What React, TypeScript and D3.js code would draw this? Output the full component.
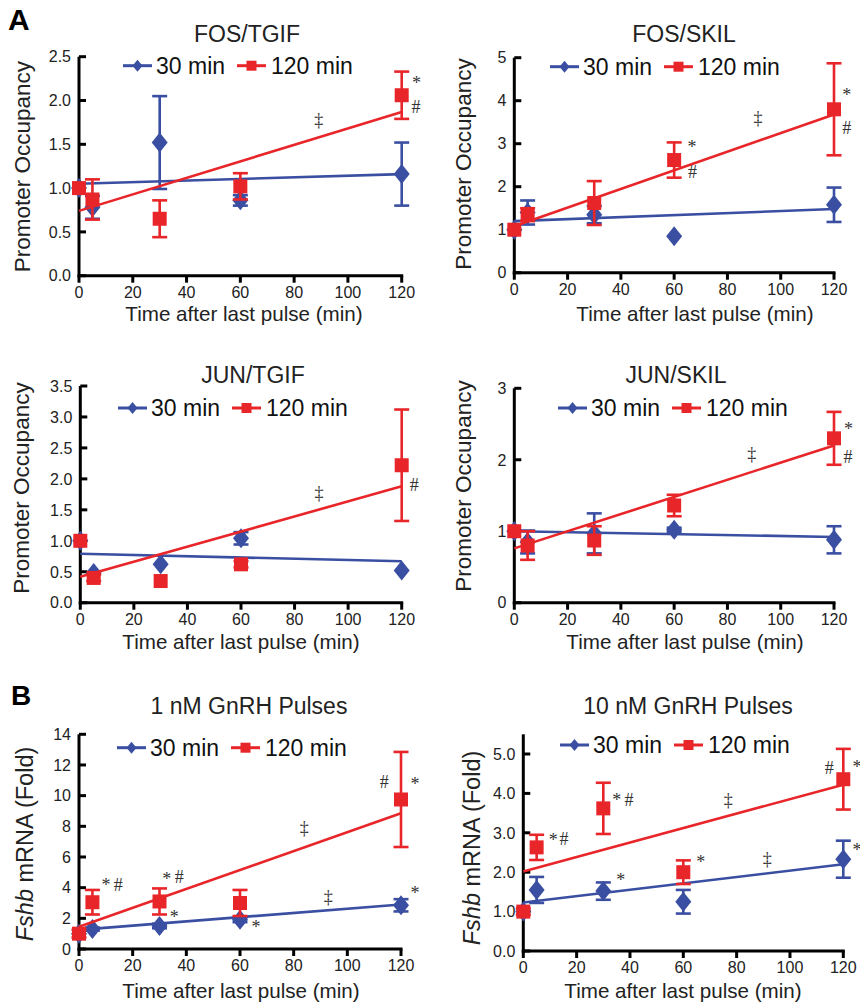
import React from 'react';
import * as d3 from 'd3';

// sampling times (min after last pulse)
const times = [0, 5, 30, 60, 120];
const fitEnds = [0, 120];
const xTicks = [0, 20, 40, 60, 80, 100, 120];

// FOS/TGIF
const fosTgif30 = [1.0, 0.78, 1.52, 0.86, 1.16];
const fosTgif30Err = [0, 0.13, 0.53, 0.06, 0.36];
const fosTgif120 = [1.0, 0.87, 0.65, 1.02, 2.06];
const fosTgif120Err = [0, 0.23, 0.21, 0.15, 0.27];
const fosTgif30Fit = [1.05, 1.16];
const fosTgif120Fit = [0.74, 1.87];
const fosTgifMarks: [number, number, string][] = [[125.5, 2.2, '*'], [125.3, 1.93, '#'], [89.2, 1.78, '‡']];

// FOS/SKIL
const fosSkil30 = [1.0, 1.4, 1.35, 0.85, 1.58];
const fosSkil30Err = [0, 0.28, 0.2, 0, 0.4];
const fosSkil120 = [1.0, 1.35, 1.62, 2.62, 3.8];
const fosSkil120Err = [0, 0.15, 0.51, 0.41, 1.07];
const fosSkil30Fit = [1.2, 1.48];
const fosSkil120Fit = [1.08, 3.68];
const fosSkilMarks: [number, number, string][] = [
  [124.8, 4.13, '*'], [124.8, 3.37, '#'], [66.7, 2.92, '*'], [66.9, 2.34, '#'], [91.5, 3.6, '‡'],
];

// JUN/TGIF
const junTgif30 = [1.0, 0.48, 0.62, 1.04, 0.52];
const junTgif30Err = [0, 0, 0, 0.1, 0];
const junTgif120 = [1.0, 0.4, 0.35, 0.62, 2.22];
const junTgif120Err = [0, 0.05, 0, 0.05, 0.9];
const junTgif30Fit = [0.79, 0.67];
const junTgif120Fit = [0.42, 1.88];
const junTgifMarks: [number, number, string][] = [[124.7, 1.9, '#'], [89.1, 1.77, '‡']];

// JUN/SKIL
const junSkil30 = [1.0, 0.85, 0.97, 1.02, 0.88];
const junSkil30Err = [0, 0.16, 0.28, 0.03, 0.19];
const junSkil120 = [1.0, 0.8, 0.87, 1.36, 2.3];
const junSkil120Err = [0, 0.2, 0.2, 0.15, 0.37];
const junSkil30Fit = [1.0, 0.92];
const junSkil120Fit = [0.76, 2.2];
const junSkilMarks: [number, number, string][] = [[125.4, 2.43, '*'], [125.3, 2.04, '#'], [89.1, 2.08, '‡']];

// Fshb, 1 nM GnRH
const nm1_30 = [1.0, 1.3, 1.5, 1.9, 2.85];
const nm1_30Err = [0, 0.1, 0.15, 0.15, 0.4];
const nm1_120 = [1.0, 3.05, 3.1, 3.0, 9.75];
const nm1_120Err = [0.25, 0.8, 0.85, 0.85, 3.1];
const nm1_30Fit = [1.25, 2.9];
const nm1_120Fit = [1.45, 8.85];
const nm1Marks: [number, number, string][] = [
  [10.1, 4.17, '*'], [14.6, 4.17, '#'], [32.7, 4.61, '*'], [37.4, 4.7, '#'], [35.5, 2.09, '*'],
  [66, 1.43, '*'], [83.9, 7.9, '‡'], [92.9, 3.39, '‡'], [113.8, 10.9, '#'], [125.2, 10.8, '*'], [125.2, 3.7, '*'],
];

// Fshb, 10 nM GnRH
const nm10_30 = [1.0, 1.55, 1.52, 1.25, 2.33];
const nm10_30Err = [0, 0.33, 0.22, 0.3, 0.47];
const nm10_120 = [1.0, 2.63, 3.62, 2.0, 4.36];
const nm10_120Err = [0.08, 0.32, 0.65, 0.3, 0.77];
const nm10_30Fit = [1.23, 2.2];
const nm10_120Fit = [2.02, 4.22];
const nm10Marks: [number, number, string][] = [
  [11.25, 2.83, '*'], [15.3, 2.84, '#'], [35, 3.83, '*'], [39.6, 3.83, '#'], [66.5, 2.26, '*'],
  [36.5, 1.82, '*'], [76.9, 3.83, '‡'], [91.5, 2.35, '‡'], [114.7, 4.66, '#'], [125.1, 4.67, '*'], [125.1, 2.56, '*'],
];

const BLUE = '#3a4fa2';
const RED = '#e8262a';
const FONT = '"Liberation Sans", Arial, sans-serif';

const panels = [
  {
    title: 'FOS/TGIF', fshb: false, yMax: 2.5, axisTop: 2.5, yTicks: d3.range(0, 2.51, 0.5), fmt: d3.format('.1f'),
    s30: fosTgif30, e30: fosTgif30Err, s120: fosTgif120, e120: fosTgif120Err, f30: fosTgif30Fit, f120: fosTgif120Fit, marks: fosTgifMarks,
    x0: 79, x1: 401.7, yb: 275.7, yt: 56.7, title_: [247, 41.5], legend: [123, 65.7], ylab: [21.7, 166.7], xlab: [244, 321],
  },
  {
    title: 'FOS/SKIL', fshb: false, yMax: 5, axisTop: 5, yTicks: d3.range(0, 6, 1), fmt: d3.format('d'),
    s30: fosSkil30, e30: fosSkil30Err, s120: fosSkil120, e120: fosSkil120Err, f30: fosSkil30Fit, f120: fosSkil120Fit, marks: fosSkilMarks,
    x0: 514.3, x1: 834, yb: 272.7, yt: 57.7, title_: [684, 41.7], legend: [550, 66.7], ylab: [463.3, 164], xlab: [695, 321],
  },
  {
    title: 'JUN/TGIF', fshb: false, yMax: 3.5, axisTop: 3.5, yTicks: d3.range(0, 3.51, 0.5), fmt: d3.format('.1f'),
    s30: junTgif30, e30: junTgif30Err, s120: junTgif120, e120: junTgif120Err, f30: junTgif30Fit, f120: junTgif120Fit, marks: junTgifMarks,
    x0: 80.3, x1: 401.7, yb: 602.7, yt: 386, title_: [253, 382.7], legend: [118, 408], ylab: [20.7, 488], xlab: [241, 649],
  },
  {
    title: 'JUN/SKIL', fshb: false, yMax: 3, axisTop: 3, yTicks: d3.range(0, 4, 1), fmt: d3.format('d'),
    s30: junSkil30, e30: junSkil30Err, s120: junSkil120, e120: junSkil120Err, f30: junSkil30Fit, f120: junSkil120Fit, marks: junSkilMarks,
    x0: 514.3, x1: 834, yb: 602.7, yt: 388.3, title_: [676, 382.7], legend: [558, 408], ylab: [463.3, 486], xlab: [685, 649],
  },
  {
    title: '1 nM GnRH Pulses', fshb: true, yMax: 14, axisTop: 14, yTicks: d3.range(0, 15, 2), fmt: d3.format('d'),
    s30: nm1_30, e30: nm1_30Err, s120: nm1_120, e120: nm1_120Err, f30: nm1_30Fit, f120: nm1_120Fit, marks: nm1Marks,
    x0: 79, x1: 401, yb: 949, yt: 734.3, title_: [249, 714], legend: [117, 747.7], ylab: [25, 844], xlab: [241, 998],
  },
  {
    title: '10 nM GnRH Pulses', fshb: true, yMax: 5, axisTop: 5.5, yTicks: d3.range(0, 5.1, 1), fmt: d3.format('.1f'),
    s30: nm10_30, e30: nm10_30Err, s120: nm10_120, e120: nm10_120Err, f30: nm10_30Fit, f120: nm10_120Fit, marks: nm10Marks,
    x0: 523.3, x1: 843.3, yb: 951, yt: 754, title_: [688, 714], legend: [560, 745], ylab: [471.7, 848], xlab: [683, 998],
  },
];

const diamond = (w: number, h: number) => `M0,${-h}L${w},0L0,${h}L${-w},0Z`;

const Series = ({ x, y, vals, errs, fit, color, shape }: any) => {
  const line = d3.line<number>().x((_, i) => x(fitEnds[i])).y((d) => y(d));
  return (
    <g>
      <path d={line(fit) || ''} stroke={color} strokeWidth={2.6} fill="none" />
      {vals.map((v: number, i: number) => {
        const cx = x(times[i]);
        const e = errs[i];
        return (
          <g key={i}>
            {e > 0 && (
              <g stroke={color} strokeWidth={2.6}>
                <line x1={cx} x2={cx} y1={y(v - e)} y2={y(v + e)} />
                <line x1={cx - 7.5} x2={cx + 7.5} y1={y(v + e)} y2={y(v + e)} />
                <line x1={cx - 7.5} x2={cx + 7.5} y1={y(v - e)} y2={y(v - e)} />
              </g>
            )}
            {shape === 'diamond'
              ? <path d={diamond(8, 10)} transform={`translate(${cx},${y(v)})`} fill={color} />
              : <rect x={cx - 7} y={y(v) - 7} width={14} height={14} fill={color} />}
          </g>
        );
      })}
    </g>
  );
};

const Panel = ({ p }: any) => {
  const x = d3.scaleLinear().domain([0, 120]).range([p.x0, p.x1]);
  const y = d3.scaleLinear().domain([0, p.yMax]).range([p.yb, p.yt]);
  const [lx, ly] = p.legend;
  return (
    <g fontFamily={FONT}>
      <text x={p.title_[0]} y={p.title_[1]} textAnchor="middle" fontSize={23} fill="#222">{p.title}</text>

      {/* axes */}
      <g stroke="#000" strokeWidth={3}>
        <line x1={x(0)} x2={x(0)} y1={y(0) + 1.5} y2={y(p.axisTop)} />
        <line x1={x(0) - 1.5} x2={x(120) + 1.5} y1={y(0)} y2={y(0)} />
        {p.yTicks.map((t: number) => (
          <line key={t} x1={x(0)} x2={x(0) + 7} y1={y(t)} y2={y(t)} />
        ))}
        {xTicks.map((t) => (
          <line key={t} x1={x(t)} x2={x(t)} y1={y(0)} y2={y(0) + 7} />
        ))}
      </g>
      {p.yTicks.map((t: number) => (
        <text key={t} x={x(0) - 8} y={y(t)} dy="0.36em" textAnchor="end" fontSize={16} fill="#222">{p.fmt(t)}</text>
      ))}
      {xTicks.map((t) => (
        <text key={t} x={x(t)} y={y(0) + 22} textAnchor="middle" fontSize={16} fill="#222">{t}</text>
      ))}

      {/* axis titles */}
      <text x={p.xlab[0]} y={p.xlab[1]} textAnchor="middle" fontSize={20.6} fill="#222">Time after last pulse (min)</text>
      <text transform={`translate(${p.ylab[0]},${p.ylab[1]}) rotate(-90)`} dy="0.36em" textAnchor="middle"
        fontSize={p.fshb ? 23.5 : 22.5} fill="#222">
        {p.fshb ? (<><tspan fontStyle="italic">Fshb</tspan> mRNA (Fold)</>) : 'Promoter Occupancy'}
      </text>

      {/* legend */}
      <g>
        <line x1={lx} x2={lx + 29} y1={ly} y2={ly} stroke={BLUE} strokeWidth={3} />
        <path d={diamond(5, 6)} transform={`translate(${lx + 14.5},${ly})`} fill={BLUE} />
        <text x={lx + 33} y={ly} dy="0.36em" fontSize={23} fill="#111">30 min</text>
        <line x1={lx + 114} x2={lx + 143} y1={ly} y2={ly} stroke={RED} strokeWidth={3} />
        <rect x={lx + 128.5 - 5} y={ly - 5} width={10} height={10} fill={RED} />
        <text x={lx + 148} y={ly} dy="0.36em" fontSize={23} fill="#111">120 min</text>
      </g>

      <Series x={x} y={y} vals={p.s30} errs={p.e30} fit={p.f30} color={BLUE} shape="diamond" />
      <Series x={x} y={y} vals={p.s120} errs={p.e120} fit={p.f120} color={RED} shape="square" />

      {p.marks.map((m: [number, number, string], i: number) => (
        <text key={i} x={x(m[0])} y={y(m[1])} dy="0.35em" textAnchor="middle" fontSize={18}
          fontFamily='"Liberation Serif", serif' fill="#333">{m[2]}</text>
      ))}
    </g>
  );
};

const App = () => (
  <svg width={860} height={1003} style={{ position: 'absolute', left: 0, top: 0, background: '#fff' }}>
    <rect width={860} height={1003} fill="#fff" />
    <text x={8} y={30} fontFamily={FONT} fontWeight="bold" fontSize={30} fill="#000">A</text>
    <text x={11} y={705} fontFamily={FONT} fontWeight="bold" fontSize={28} fill="#000">B</text>
    {panels.map((p, i) => <Panel key={i} p={p} />)}
  </svg>
);

export default App;
